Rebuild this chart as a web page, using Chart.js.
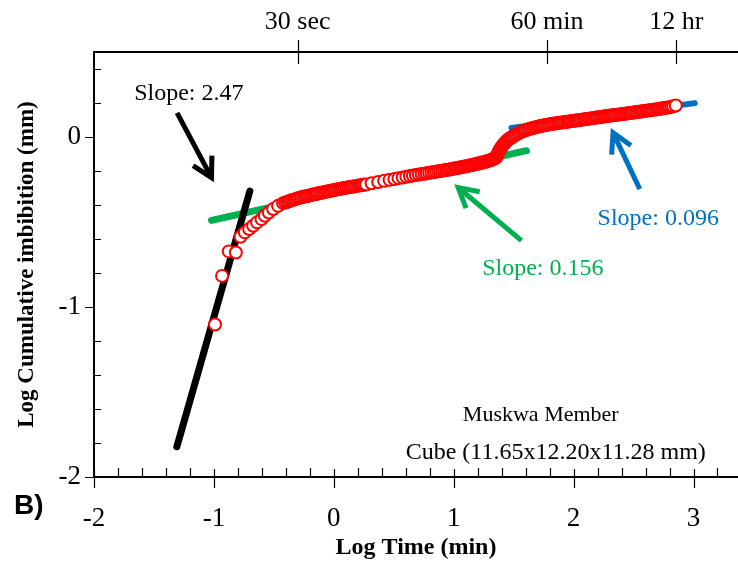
<!DOCTYPE html>
<html>
<head>
<meta charset="utf-8">
<script src="https://cdn.jsdelivr.net/npm/chart.js@4.4.1/dist/chart.umd.min.js"></script>
<style>
  html, body { margin: 0; padding: 0; background: #fff; }
  #wrap { width: 738px; height: 563px; position: relative; }
</style>
</head>
<body>
<div id="wrap"><canvas id="c" width="738" height="563"></canvas></div>
<script>
// Log cumulative imbibition (mm) against log time (min), Muskwa Member cube.
// Readings are [log time, log imbibition] pairs grouped by phase of the run.
const earlyPoints = [
  [-0.991,-1.103],[-0.932,-0.817],[-0.876,-0.673],[-0.817,-0.679],[-0.778,-0.587],
  [-0.742,-0.561],[-0.706,-0.541],[-0.673,-0.522],[-0.640,-0.502],[-0.603,-0.483],
  [-0.575,-0.463],[-0.542,-0.444],[-0.506,-0.424],[-0.465,-0.405],[-0.423,-0.389]
];
const densePoints = [
  [-0.405,-0.386],[-0.390,-0.382],[-0.375,-0.378],[-0.360,-0.374],[-0.345,-0.371],
  [-0.330,-0.367],[-0.315,-0.364],[-0.300,-0.361],[-0.285,-0.358],[-0.270,-0.355],
  [-0.255,-0.352],[-0.240,-0.350],[-0.225,-0.347],[-0.210,-0.345],[-0.195,-0.342],
  [-0.180,-0.340],[-0.165,-0.337],[-0.150,-0.335],[-0.135,-0.333],[-0.120,-0.330],
  [-0.105,-0.328],[-0.090,-0.326],[-0.075,-0.323],[-0.060,-0.321],[-0.045,-0.319],
  [-0.030,-0.317],[-0.015,-0.315],[0.000,-0.312],[0.015,-0.310],[0.030,-0.308],
  [0.045,-0.306],[0.060,-0.304],[0.075,-0.302],[0.090,-0.300],[0.105,-0.298],
  [0.120,-0.296],[0.135,-0.294],[0.150,-0.292],[0.165,-0.291],[0.180,-0.289],
  [0.195,-0.287],[0.210,-0.285],[0.225,-0.284],[0.240,-0.282],[0.255,-0.280],
  [0.270,-0.279]
];
const middlePoints = [
  [0.315,-0.272],[0.370,-0.265],[0.420,-0.258],[0.465,-0.252],[0.505,-0.247],
  [0.540,-0.242],[0.575,-0.238],[0.605,-0.234],[0.635,-0.230],[0.660,-0.227],
  [0.685,-0.224],[0.710,-0.221],[0.733,-0.218],[0.755,-0.216],[0.775,-0.213],
  [0.795,-0.211],[0.815,-0.209],[0.835,-0.206],[0.853,-0.204],[0.871,-0.202],
  [0.889,-0.200],[0.906,-0.198],[0.923,-0.196],[0.940,-0.194],[0.956,-0.192],
  [0.972,-0.190],[0.988,-0.188],[1.003,-0.186],[1.018,-0.184],[1.033,-0.182],
  [1.048,-0.180],[1.062,-0.178],[1.076,-0.176],[1.090,-0.174],[1.104,-0.172],
  [1.117,-0.170],[1.130,-0.168],[1.143,-0.166],[1.156,-0.164],[1.169,-0.162],
  [1.181,-0.160],[1.193,-0.158],[1.205,-0.156],[1.217,-0.154],[1.229,-0.152],
  [1.240,-0.150],[1.251,-0.148],[1.262,-0.146],[1.273,-0.144],[1.284,-0.141],
  [1.294,-0.139],[1.304,-0.137],[1.314,-0.134],[1.324,-0.131],[1.334,-0.128],
  [1.344,-0.125],[1.352,-0.121],[1.357,-0.117]
];
const stepPoints = [
  [1.362,-0.108],[1.367,-0.100],[1.372,-0.092],[1.377,-0.085],[1.382,-0.078],
  [1.388,-0.071],[1.394,-0.064],[1.400,-0.058],[1.407,-0.051],[1.414,-0.045],
  [1.421,-0.039],[1.428,-0.033],[1.436,-0.027],[1.444,-0.022],[1.452,-0.017],
  [1.460,-0.012],[1.469,-0.008],[1.478,-0.004],[1.487,0.000],[1.496,0.004]
];
const latePoints = [
  [1.510,0.010],[1.525,0.016],[1.540,0.022],[1.555,0.027],[1.570,0.032],
  [1.585,0.036],[1.600,0.040],[1.615,0.044],[1.630,0.047],[1.645,0.050],
  [1.660,0.053],[1.675,0.056],[1.690,0.059],[1.705,0.061],[1.720,0.064],
  [1.735,0.066],[1.750,0.068],[1.765,0.070],[1.780,0.072],[1.795,0.074],
  [1.810,0.076],[1.825,0.078],[1.840,0.079],[1.855,0.081],[1.870,0.082],
  [1.885,0.084],[1.900,0.085],[1.915,0.087],[1.930,0.088],[1.945,0.090],
  [1.960,0.091],[1.975,0.093],[1.990,0.094],[2.005,0.096],[2.020,0.097],
  [2.035,0.099],[2.050,0.100],[2.065,0.102],[2.080,0.103],[2.095,0.105],
  [2.110,0.106],[2.125,0.108],[2.140,0.109],[2.155,0.111],[2.170,0.112],
  [2.185,0.114],[2.200,0.115],[2.215,0.117],[2.230,0.118],[2.245,0.120],
  [2.260,0.121],[2.275,0.123],[2.290,0.124],[2.305,0.126],[2.320,0.127],
  [2.335,0.129],[2.350,0.130],[2.365,0.131],[2.380,0.133],[2.395,0.134],
  [2.410,0.136],[2.425,0.137],[2.440,0.138],[2.455,0.140],[2.470,0.141],
  [2.485,0.143],[2.500,0.144],[2.515,0.145],[2.530,0.147],[2.545,0.148],
  [2.560,0.150],[2.575,0.151],[2.590,0.153],[2.605,0.154],[2.620,0.156],
  [2.635,0.157],[2.650,0.159],[2.665,0.160],[2.680,0.162],[2.695,0.163],
  [2.710,0.165],[2.725,0.167],[2.740,0.168],[2.755,0.170],[2.770,0.172],
  [2.785,0.173],[2.800,0.175],[2.815,0.177],[2.830,0.181],[2.852,0.185]
];

// Fitted straight lines: slope, a point the line passes through, and x extent.
const fitSlopes  = [2.47, 0.156, 0.096];
const fitAnchors = [[-1.0045, -1.070], [0.2935, -0.2855], [2.246, 0.126]];
const fitRanges  = [[-1.309, -0.700], [-1.020, 1.607], [1.482, 3.010]];
const fitColors  = ['#000000', '#00B050', '#0070C0'];

const xTickValues = [-2, -1, 0, 1, 2, 3];
const xTickLabels = ['-2', '-1', '0', '1', '2', '3'];
const yTickValues = [-2, -1, 0];
const yTickLabels = ['-2', '-1', '0'];
// elapsed-time marks on the top axis: 0.5 min, 60 min, 720 min
const topTickValues = [Math.log10(0.5), Math.log10(60), Math.log10(720)];
const topTickLabels = ['30 sec', '60 min', '12 hr'];

const X_MIN = -2, X_MAX = 3.371, Y_MIN = -2, Y_MAX = 0.5;

const allPoints = [].concat(earlyPoints, densePoints, middlePoints, stepPoints, latePoints)
  .map(p => ({ x: p[0], y: p[1] }));

function fitLine(i) {
  const [ax, ay] = fitAnchors[i];
  return fitRanges[i].map(x => ({ x: x, y: ay + fitSlopes[i] * (x - ax) }));
}

// Slope annotations: arrow tail/tip and label centre, in data units
const notes = [
  { text: 'Slope: ' + fitSlopes[0], color: '#000000', at: [-1.209, 0.253],
    tail: [-1.307, 0.142], tip: [-1.020, -0.239] },
  { text: 'Slope: ' + fitSlopes[1], color: '#00B050', at: [1.743, -0.776],
    tail: [1.565, -0.610], tip: [1.037, -0.297] },
  { text: 'Slope: ' + fitSlopes[2], color: '#0070C0', at: [2.706, -0.482],
    tail: [2.552, -0.307], tip: [2.329, 0.025] }
];
const sampleLines = [
  { text: 'Muskwa Member', at: [1.726, -1.635], size: 22 },
  { text: 'Cube (11.65x12.20x11.28 mm)', at: [1.851, -1.859], size: 24 }
];

const SERIF = '"Liberation Serif", "Times New Roman", serif';

function drawArrow(ctx, x0, y0, x1, y1, color) {
  const ang = Math.atan2(y1 - y0, x1 - x0);
  const len = 22, spread = Math.PI / 6.2;
  ctx.save();
  ctx.strokeStyle = color;
  ctx.lineWidth = 5;
  ctx.lineCap = 'butt';
  ctx.lineJoin = 'miter';
  ctx.beginPath();
  ctx.moveTo(x0, y0);
  ctx.lineTo(x1 - 2 * Math.cos(ang), y1 - 2 * Math.sin(ang));
  ctx.stroke();
  ctx.beginPath();
  ctx.moveTo(x1 - len * Math.cos(ang - spread), y1 - len * Math.sin(ang - spread));
  ctx.lineTo(x1, y1);
  ctx.lineTo(x1 - len * Math.cos(ang + spread), y1 - len * Math.sin(ang + spread));
  ctx.stroke();
  ctx.restore();
}

const decor = {
  id: 'decor',
  afterDraw(chart) {
    const { ctx, chartArea: a, scales } = chart;
    const x = scales.x, y = scales.y;
    ctx.save();
    ctx.strokeStyle = '#000';
    ctx.lineCap = 'butt';

    // frame: top, left, bottom
    ctx.lineWidth = 2;
    ctx.beginPath();
    ctx.moveTo(a.left - 1, a.top); ctx.lineTo(738, a.top);
    ctx.moveTo(a.left, a.top); ctx.lineTo(a.left, a.bottom);
    ctx.moveTo(a.left - 1, a.bottom); ctx.lineTo(738, a.bottom);
    ctx.stroke();

    ctx.lineWidth = 1.2;
    ctx.beginPath();
    // x minor ticks every 0.2 (inside), major ticks crossing
    for (let i = -10; i <= 16; i++) {
      const v = i / 5;
      const px = Math.round(x.getPixelForValue(v)) + 0.5;
      if (i % 5 === 0) {
        ctx.moveTo(px, a.bottom - 8); ctx.lineTo(px, a.bottom + 11);
      } else {
        ctx.moveTo(px, a.bottom); ctx.lineTo(px, a.bottom - 9);
      }
    }
    // y minor ticks inside, major ticks outside
    for (let i = -10; i <= 2; i++) {
      const v = i / 5;
      const py = Math.round(y.getPixelForValue(v)) + 0.5;
      if (i % 5 === 0) {
        ctx.moveTo(a.left, py); ctx.lineTo(a.left - 9, py);
      } else {
        ctx.moveTo(a.left, py); ctx.lineTo(a.left + 7, py);
      }
    }
    // top axis marks crossing the line
    topTickValues.forEach(v => {
      const px = Math.round(x.getPixelForValue(v)) + 0.5;
      ctx.moveTo(px, a.top - 12); ctx.lineTo(px, a.top + 12);
    });
    ctx.stroke();

    // axis titles
    ctx.fillStyle = '#000';
    ctx.textAlign = 'center';
    ctx.textBaseline = 'middle';
    ctx.font = 'bold 24px ' + SERIF;
    ctx.fillText('Log Time (min)', (a.left + a.right) / 2, 548);
    ctx.save();
    ctx.translate(27, (a.top + a.bottom) / 2);
    ctx.rotate(-Math.PI / 2);
    ctx.font = 'bold 23px ' + SERIF;
    ctx.fillText('Log Cumulative imbibition (mm)', 0, 0);
    ctx.restore();

    // panel letter
    ctx.font = 'bold 28px "Liberation Sans", Arial, sans-serif';
    ctx.textAlign = 'left';
    ctx.fillText('B)', 14, 506);

    // slope annotations
    ctx.font = '24px ' + SERIF;
    ctx.textAlign = 'center';
    notes.forEach(n => {
      drawArrow(ctx,
        x.getPixelForValue(n.tail[0]), y.getPixelForValue(n.tail[1]),
        x.getPixelForValue(n.tip[0]), y.getPixelForValue(n.tip[1]), n.color);
      ctx.fillStyle = n.color;
      ctx.fillText(n.text, x.getPixelForValue(n.at[0]), y.getPixelForValue(n.at[1]));
    });
    ctx.fillStyle = '#000';
    sampleLines.forEach(s => {
      ctx.font = s.size + 'px ' + SERIF;
      ctx.fillText(s.text, x.getPixelForValue(s.at[0]), y.getPixelForValue(s.at[1]));
    });
    ctx.restore();
  }
};

const tickFont = { family: SERIF, size: 27 };
const noSidePadding = s => { s.paddingLeft = 0; s.paddingRight = 0; };

new Chart(document.getElementById('c'), {
  type: 'scatter',
  data: {
    datasets: [
      {
        data: allPoints,
        order: 0,
        pointRadius: 6,
        pointHoverRadius: 6,
        pointBorderWidth: 2,
        pointBorderColor: '#FF0000',
        pointBackgroundColor: '#FFFFFF'
      },
      ...fitColors.map((c, i) => ({
        data: fitLine(i),
        order: i + 1,
        showLine: true,
        borderColor: c,
        borderWidth: i === 2 ? 6 : 7,
        borderCapStyle: 'round',
        pointRadius: 0,
        pointHoverRadius: 0
      }))
    ]
  },
  options: {
    responsive: false,
    animation: false,
    devicePixelRatio: 1,
    layout: { padding: 0, autoPadding: false },
    plugins: { legend: { display: false }, tooltip: { enabled: false } },
    scales: {
      x: {
        type: 'linear', position: 'bottom', min: X_MIN, max: X_MAX,
        grid: { display: false, drawTicks: false },
        border: { display: false },
        afterBuildTicks: s => { s.ticks = xTickValues.map(v => ({ value: v })); },
        afterFit: s => { s.height = 86; noSidePadding(s); },
        ticks: {
          font: tickFont, color: '#000', padding: 26, maxRotation: 0, autoSkip: false,
          callback: (v, i) => xTickLabels[i]
        }
      },
      top: {
        type: 'linear', position: 'top', min: X_MIN, max: X_MAX,
        grid: { display: false, drawTicks: false },
        border: { display: false },
        afterBuildTicks: s => { s.ticks = topTickValues.map(v => ({ value: v })); },
        afterFit: s => { s.height = 52; noSidePadding(s); },
        ticks: {
          font: { family: SERIF, size: 26 }, color: '#000', padding: 14,
          maxRotation: 0, autoSkip: false,
          callback: (v, i) => topTickLabels[i]
        }
      },
      y: {
        type: 'linear', position: 'left', min: Y_MIN, max: Y_MAX,
        grid: { display: false, drawTicks: false },
        border: { display: false },
        afterBuildTicks: s => { s.ticks = yTickValues.map(v => ({ value: v })); },
        afterFit: s => { s.width = 94; s.paddingTop = 0; s.paddingBottom = 0; },
        ticks: {
          font: tickFont, color: '#000', padding: 13,
          callback: (v, i) => yTickLabels[i]
        }
      }
    }
  },
  plugins: [decor]
});
</script>
</body>
</html>
